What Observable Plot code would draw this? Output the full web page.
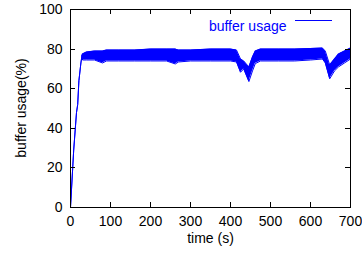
<!DOCTYPE html>
<html>
<head>
<meta charset="utf-8">
<script src="https://cdn.jsdelivr.net/npm/d3@7"></script>
<script src="https://cdn.jsdelivr.net/npm/@observablehq/plot@0.6"></script>
<style>
  html, body { margin: 0; padding: 0; background: #fff; }
  svg { font-family: "Liberation Sans", Arial, sans-serif; }
</style>
</head>
<body>
<div id="chart"></div>
<script>
// time (s)
const times = [0, 8, 15, 18, 21, 26, 29, 30, 40, 60, 80, 90, 120, 160, 200, 240, 262, 270, 300, 350, 400, 415, 425, 433, 446, 455, 462, 475, 520, 560, 600, 630, 637, 648, 660, 670, 685, 700];
// upper edge of the buffer-usage trace (%)
const upper = [0, 29, 48, 52, 64, 73, 77, 77.5, 78.5, 79, 79, 79.5, 79.5, 79.5, 80, 80, 80, 79.5, 79.5, 80, 80, 79.5, 75, 74, 71, 76, 79, 80, 80, 80, 80.3, 80.5, 79, 72, 75, 77.5, 79, 80.5];
// lower edge of the buffer-usage trace (%)
const lower = [0, 29, 48, 52, 64, 73, 77, 74.5, 74.5, 74.5, 73, 74, 74, 74, 74, 74, 72.5, 73.5, 74, 74, 74, 73.5, 68.3, 70, 63.6, 69, 72.7, 74, 74, 74, 74.5, 75, 73, 65, 69, 71, 73, 75];
const xTicks = [0, 100, 200, 300, 400, 500, 600, 700];
const yTicks = [0, 20, 40, 60, 80, 100];
const seriesName = "buffer usage";
const xLabel = "time (s)";
const yLabel = "buffer usage(%)";

const data = times.map((t, i) => ({t, hi: upper[i], lo: lower[i]}));
const FONT = 14;

function ticksMark(index, scales, values, dim) {
  const g = d3.create("svg:g").attr("stroke", "#000").attr("stroke-width", 1);
  const L = dim.marginLeft, R = dim.width - dim.marginRight;
  const T = dim.marginTop, B = dim.height - dim.marginBottom;
  const len = 5;
  for (const v of xTicks) {
    const x = Math.round(scales.x(v)) + 0.5;
    g.append("line").attr("x1", x).attr("x2", x).attr("y1", B).attr("y2", B - len);
    g.append("line").attr("x1", x).attr("x2", x).attr("y1", T).attr("y2", T + len);
  }
  for (const v of yTicks) {
    const y = Math.round(scales.y(v)) + 0.5;
    g.append("line").attr("x1", L).attr("x2", L + len).attr("y1", y).attr("y2", y);
    g.append("line").attr("x1", R).attr("x2", R - len).attr("y1", y).attr("y2", y);
  }
  return g.node();
}

function legendLine(index, scales, values, dim) {
  const R = dim.width - dim.marginRight;
  return d3.create("svg:line")
    .attr("x1", R - 55).attr("x2", R - 18)
    .attr("y1", dim.marginTop + 11.5).attr("y2", dim.marginTop + 11.5)
    .attr("stroke", "#0000ff").attr("stroke-width", 1.2).node();
}

function yLabelMark(index, scales, values, dim) {
  const cy = dim.marginTop + (dim.height - dim.marginTop - dim.marginBottom) / 2;
  const cx = dim.marginLeft - 49;
  return d3.create("svg:text")
    .attr("transform", `translate(${cx},${cy}) rotate(-90)`)
    .attr("text-anchor", "middle")
    .attr("dominant-baseline", "central")
    .attr("font-size", FONT)
    .attr("fill", "#000")
    .text(yLabel).node();
}

const plot = Plot.plot({
  width: 362,
  height: 258,
  marginLeft: 70,
  marginRight: 12,
  marginTop: 9,
  marginBottom: 51,
  style: {fontSize: FONT + "px", fontFamily: "'Liberation Sans', Arial, sans-serif", color: "#000", background: "#fff"},
  x: {domain: [0, 700], ticks: xTicks, tickSize: 0, tickPadding: 9, label: null},
  y: {domain: [0, 100], ticks: yTicks, tickSize: 0, tickPadding: 8, label: null},
  marks: [
    Plot.areaY(data, {x: "t", y1: "lo", y2: "hi", fill: "#0000ff"}),
    Plot.line(data, {x: "t", y: "hi", stroke: "#0000ff", strokeWidth: 1}),
    Plot.line(data, {x: "t", y: "lo", stroke: "#0000ff", strokeWidth: 1}),
    Plot.frame({stroke: "#000", strokeWidth: 1}),
    ticksMark,
    Plot.text([seriesName], {frameAnchor: "top-right", dx: -64, dy: 12, textAnchor: "end", fill: "#0000ff", fontSize: FONT}),
    legendLine,
    yLabelMark,
    Plot.text([xLabel], {frameAnchor: "bottom", dy: 35, fill: "#000", fontSize: FONT})
  ]
});
document.getElementById("chart").append(plot);
</script>
</body>
</html>
